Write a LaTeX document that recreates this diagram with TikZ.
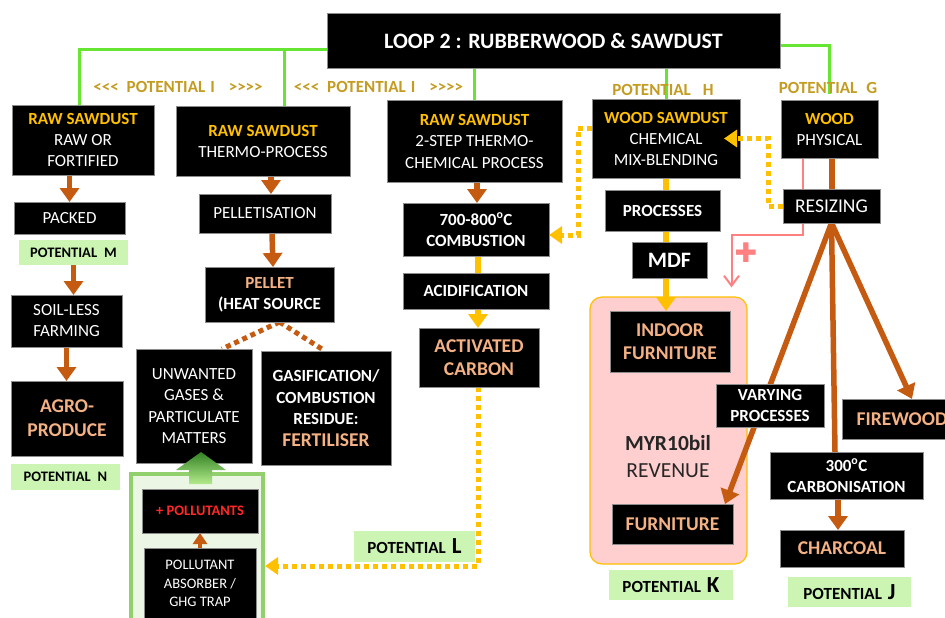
\documentclass[tikz,border=0pt]{standalone}
\usepackage{fontspec}
\setmainfont{Carlito}[Ligatures=TeXOff]
\newfontfamily\symfont{DejaVu Sans}
\usetikzlibrary{arrows.meta}

\definecolor{gold}{RGB}{255,192,0}
\definecolor{potgold}{RGB}{196,156,34}
\definecolor{peach}{RGB}{244,177,131}
\definecolor{rust}{RGB}{197,90,17}
\definecolor{lime}{RGB}{102,230,51}
\definecolor{tagfill}{RGB}{204,245,180}
\definecolor{pinkfill}{RGB}{255,206,206}
\definecolor{pinkline}{RGB}{255,128,128}
\definecolor{alarm}{RGB}{255,40,40}
\definecolor{trapline}{RGB}{146,208,110}
\definecolor{trapfill}{RGB}{236,246,228}
\definecolor{arrowdark}{RGB}{50,130,35}
\definecolor{arrowlight}{RGB}{180,235,140}

\pgfdeclarelayer{back}
\pgfdeclarelayer{wires}
\pgfdeclarelayer{front}
\pgfsetlayers{back,wires,main,front}

\newcommand\sz[2]{\fontsize{#1}{#2}\selectfont}
% black process box given by its corners (pixel units, y downwards)
\newcommand\bx[7][]{\node[blk,minimum width={(#5)-(#3)},minimum height={(#6)-(#4)},#1] (#2) at ({((#3)+(#5))/2},{((#4)+(#6))/2}) {#7};}
% light green "potential" tag
\newcommand\tg[7][]{\node[tag,minimum width={(#5)-(#3)},minimum height={(#6)-(#4)},#1] (#2) at ({((#3)+(#5))/2},{((#4)+(#6))/2}) {#7};}

\begin{document}
\begin{tikzpicture}[x=1pt,y=-1pt,
  blk/.style={fill=black,draw=black!45,line width=0.8pt,text=white,align=center,
    inner sep=0pt,outer sep=0pt,font=\sz{17}{21}},
  bold/.style={font=\sz{17}{21}\bfseries},
  big/.style={font=\sz{19.5}{23.5}\bfseries,text=peach},
  tag/.style={fill=tagfill,text=black,inner sep=0pt,outer sep=0pt,align=center,
    font=\sz{14.5}{18}\bfseries},
  label/.style={font=\sz{17}{20}\bfseries,text=potgold,inner sep=0pt},
  gl/.style={draw=lime,line width=3pt},
  ol/.style={draw=rust,line width=5.5pt},
  oa/.style={ol,-{Triangle[width=19pt,length=14pt]}},
  yl/.style={draw=gold,line width=5.5pt},
  ya/.style={yl,-{Triangle[width=19pt,length=14pt]}},
  yd/.style={draw=gold,line width=5pt,dash pattern=on 5pt off 4pt,
    -{Triangle[width=17pt,length=13pt]}},
  od/.style={draw=rust,line width=5pt,dash pattern=on 5pt off 4pt},
  pl/.style={draw=pinkline,line width=2pt}]

\useasboundingbox (0,0) rectangle (945,618);
\clip (0,0) rectangle (945,618);

% ---------- background panels ----------
\begin{pgfonlayer}{back}
  \fill[white] (0,0) rectangle (945,618);
  \node[draw=gold,fill=pinkfill,rounded corners=12pt,line width=1.2pt,
    minimum width=157,minimum height=267,inner sep=0pt] (rev) at (668.5,430.5) {};
  \node[draw=trapline,fill=trapfill,line width=4pt,
    minimum width=132,minimum height=152,inner sep=0pt] (trap) at (197,550) {};
\end{pgfonlayer}

% ---------- title ----------
\bx[font=\sz{22}{26}\bfseries]{title}{327}{13}{780}{68}{LOOP 2 : RUBBERWOOD \& SAWDUST}

% ---------- top row ----------
\bx{rsa}{12}{105}{154}{175}{\textcolor{gold}{\bfseries RAW SAWDUST}\\RAW OR\\FORTIFIED}
\bx{rsb}{176}{106}{350}{176}{\textcolor{gold}{\bfseries RAW SAWDUST}\\THERMO-PROCESS}
\bx[font=\sz{17}{21.5}]{rsc}{387}{100}{562}{182}{\textcolor{gold}{\bfseries RAW SAWDUST}\\2-STEP THERMO-\\CHEMICAL PROCESS}
\bx{wsd}{592}{99}{740}{178}{\textcolor{gold}{\bfseries WOOD SAWDUST}\\CHEMICAL\\MIX-BLENDING}
\bx{wod}{781}{100}{878}{158}{\textcolor{gold}{\bfseries WOOD}\\PHYSICAL}

\node[label] (pia) at (178,87) {<<<\hspace{8pt}POTENTIAL\hspace{5pt}I\hspace{14pt}>>>>};
\node[label] (pib) at (378.5,87) {<<<\hspace{8pt}POTENTIAL\hspace{5pt}I\hspace{14pt}>>>>};
\node[label] (poth) at (663,90) {POTENTIAL\hspace{12pt}H};
\node[label] (potg) at (828,88) {POTENTIAL\hspace{9pt}G};

% ---------- soil-less farming branch ----------
\bx{packed}{14}{202}{125}{234}{PACKED}
\tg{potm}{19}{240}{128}{265}{POTENTIAL\hspace{7pt}M}
\bx{soil}{11}{295}{122}{347}{SOIL-LESS\\FARMING}
\bx[font=\sz{19.5}{24}\bfseries,text=peach]{agro}{11}{381}{123}{456}{AGRO-\\PRODUCE}
\tg{potn}{11}{464}{120}{490}{POTENTIAL\hspace{7pt}N}

% ---------- pellet branch ----------
\bx{pelz}{199}{194}{331}{233}{PELLETISATION}
\bx[bold]{pellet}{205}{267}{334}{322}{\textcolor{peach}{PELLET}\\(HEAT SOURCE}
\bx[font=\sz{17}{21.5}]{gases}{136}{349}{252}{463}{UNWANTED\\GASES \&\\PARTICULATE\\MATTERS}
\bx[font=\sz{17}{21.5}\bfseries]{resid}{261}{351}{391}{465}{GASIFICATION/\\COMBUSTION\\RESIDUE:\\\textcolor{peach}{\sz{19.5}{21.5}FERTILISER}}
\bx[font=\sz{14.5}{18}\bfseries,text=alarm]{poll}{142}{489}{258}{533}{+ POLLUTANTS}
\bx[font=\sz{14.5}{18.3}]{absorb}{144}{548}{256}{619}{POLLUTANT\\ABSORBER /\\GHG TRAP}

% ---------- activated carbon branch ----------
\bx[bold]{comb}{403}{203}{549}{256}{700-800\textsuperscript{o}C\\COMBUSTION}
\bx[bold]{acid}{403}{273}{549}{309}{ACIDIFICATION}
\bx[big]{actc}{419}{328}{539}{387}{ACTIVATED\\CARBON}
\tg[font=\sz{17}{20}\bfseries]{potl}{354}{531}{475}{562}{POTENTIAL\hspace{6pt}{\sz{23}{20}L}}

% ---------- MDF branch ----------
\bx[bold]{proc}{605}{190}{720}{231}{PROCESSES}
\bx[font=\sz{22}{26}\bfseries]{mdf}{632}{242}{707}{278}{MDF}
\bx[big]{indoor}{610}{311}{730}{372}{INDOOR\\FURNITURE}
\node[font=\sz{21.5}{27},align=center,text=black!85,inner sep=0pt] (myr) at (668,457) {{\bfseries MYR10bil}\\REVENUE};
\bx[big]{furn}{612}{504}{733}{544}{FURNITURE}
\tg[font=\sz{17}{20}\bfseries]{potk}{609}{570}{733}{600}{POTENTIAL\hspace{6pt}{\sz{23}{20}K}}

% ---------- wood branch ----------
\bx[font=\sz{19.5}{23}]{resz}{783}{189}{880}{223}{RESIZING}
\bx[bold]{vary}{716}{384}{824}{427}{VARYING\\PROCESSES}
\bx[big]{fire}{842}{399}{962}{439}{FIREWOOD}
\bx[bold]{carb}{770}{452}{923}{499}{300\textsuperscript{o}C\\CARBONISATION}
\bx[big]{char}{780}{530}{904}{567}{CHARCOAL}
\tg[font=\sz{17}{20}\bfseries]{potj}{788}{577}{911}{607}{POTENTIAL\hspace{6pt}{\sz{23}{20}J}}
\node[text=pinkline,font=\symfont\sz{27}{27},inner sep=0pt] (plus) at (746,253) {✚};

% ---------- connectors ----------
\begin{pgfonlayer}{wires}
  % green feeders from the title
  \coordinate (bus) at ([yshift=-9.5pt]title.west);
  \draw[gl] (bus) -| ([xshift=-4pt]rsa.north);
  \draw[gl] ([xshift=21pt]rsb.north) |- (bus);
  \draw[gl] (rsc.north) -- (rsc.north |- title.south);
  \draw[gl] (wsd.north) -- (wsd.north |- title.south);
  \draw[gl] ([yshift=-5.5pt]title.east) -| ([yshift=6pt]wod.north);

  % soil-less farming chain
  \draw[oa] (packed.north |- rsa.south) -- (packed.north);
  \draw[oa] (potm.south) -- (potm.south |- soil.north);
  \draw[oa] (soil.south) -- (soil.south |- agro.north);

  % pellet chain
  \draw[oa] ([xshift=8pt]rsb.south) -- ([xshift=6pt]pelz.north);
  \draw[oa] ([xshift=7pt]pelz.south) -- ([xshift=3.5pt]pellet.north);
  \draw[od] ([xshift=10pt]pellet.south) -- ([xshift=28pt]gases.north);
  \draw[od] ([xshift=10pt]pellet.south) -- ([xshift=-1pt]resid.north);
  \draw[ol,line width=4pt,-{Triangle[width=14pt,length=11pt]}] (absorb.north) -- (absorb.north |- poll.south);

  % activated carbon chain
  \draw[oa] ([xshift=2.5pt]rsc.south) -- ([xshift=1pt]comb.north);
  \draw[yl] ([xshift=2pt]comb.south) -- ([xshift=2pt]acid.north);
  \draw[ya] ([xshift=2pt]acid.south) -- ([xshift=-1pt]actc.north);
  \draw[yd] ([xshift=-1pt]actc.south) |- ([yshift=-16pt]trap.east);
  \draw[yd] ([yshift=10.5pt]wsd.west) -- ++(-14,0) |- ([yshift=-5.5pt]comb.east);

  % MDF chain
  \draw[yl] (wsd.south) -- (wsd.south |- proc.north);
  \draw[yl] (wsd.south |- proc.south) -- (wsd.south |- mdf.north);
  \draw[ya] (wsd.south |- mdf.south) -- (wsd.south |- indoor.north);

  % wood chain
  \draw[ol] ([xshift=2.5pt]wod.south) -- ([xshift=0.5pt]resz.north);
  \draw[pl] ([xshift=-26.5pt]wod.south) -- ([xshift=-28.5pt]resz.north);
  \draw[pl,-{Straight Barb[length=10pt,width=15pt]}] ([xshift=-28.5pt]resz.south) -- ++(0,12) -| ([xshift=63pt,yshift=9pt]rev.north);
  \draw[oa] (resz.south) -- ([xshift=52.5pt]furn.north);
  \draw[ol] (resz.south) -- ([xshift=-11.5pt]carb.north);
  \draw[oa] (resz.south) -- ([xshift=10pt]fire.north);
  \draw[oa] ([xshift=-8.5pt]carb.south) -- ([xshift=-4pt]char.north);
\end{pgfonlayer}

% green block arrow out of the trap panel
\shade[top color=arrowdark,bottom color=arrowlight]
  (189,484) -- (189,470) -- (176,470) -- (201,452) -- (226,470) -- (212,470) -- (212,484) -- cycle;

\begin{pgfonlayer}{front}
  \draw[yd] (resz.west) -- ++(-15,0) |- ([xshift=-16pt]wsd.east);
\end{pgfonlayer}
\end{tikzpicture}
\end{document}
